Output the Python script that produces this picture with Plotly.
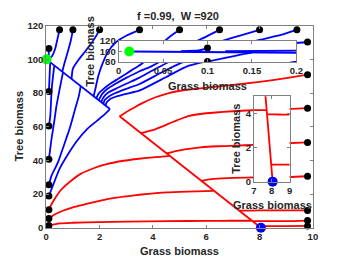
import plotly.graph_objects as go

W, H = 350, 263

# ---------------- text ----------------
title_text = "f =0.99,&nbsp; W =920"
x_label = "Grass biomass"
y_label = "Tree biomass"

# ---------------- ticks ----------------
main_xticks = [0, 2, 4, 6, 8, 10]
main_yticks = [0, 20, 40, 60, 80, 100, 120]
ins1_xticks = [0, 0.05, 0.1, 0.15, 0.2]
ins1_xticklabels = ["0", "0.05", "0.1", "0.15", "0.2"]
ins1_yticks = [80, 100, 120]
ins2_xticks = [7, 8, 9]
ins2_yticks = [0, 2, 4]

# ---------------- equilibria ----------------
green_eq_G = [0.012]
green_eq_T = [100]
blue_eq_G = [8.05]
blue_eq_T = [0]

# ---------------- blue trajectories (to tree state) ----------------
bL106_G = [0.1, 0.09, 0.07]
bL106_T = [106.5, 102, 100.8]
bL81_G = [0.1, 0.12, 0.14, 0.15]
bL81_T = [80.9, 88, 95, 98.1]
bL60_G = [0.1, 0.15, 0.19, 0.22, 0.27, 0.3]
bL60_T = [60.4, 66, 78, 85, 92, 96.3]
bL41_G = [0.1, 0.2, 0.3, 0.38, 0.5, 0.6, 0.63]
bL41_T = [40.7, 53, 63, 72, 82, 90, 92.2]
bL25_G = [0.1, 0.2, 0.44, 0.6, 0.75, 0.9, 1.11, 1.22, 1.29]
bL25_T = [25.5, 31, 38.8, 46, 53, 60, 72, 78, 84]
bL19_G = [0.1, 0.26, 0.5, 0.81, 1.15, 1.54, 1.9, 2.2, 2.39]
bL19_T = [18.9, 25.5, 35, 43.5, 51.5, 58.7, 63.5, 67.5, 70.5]
bT05_G = [0.5, 0.42, 0.33, 0.22, 0.12]
bT05_T = [117.5, 112, 106, 102, 100.5]
bT1_G = [1.0, 0.92, 0.8, 0.68, 0.6]
bT1_T = [117.5, 111, 104, 97.5, 92.6]
bT2_G = [2.0, 1.8, 1.5, 1.2, 1.0, 0.95]
bT2_T = [117.5, 112, 105.5, 99.5, 94.5, 88.3]
bT35_G = [3.5, 3.0, 2.6, 2.3, 2.1, 1.95, 1.85, 1.78]
bT35_T = [117.5, 114, 110, 104, 97, 90, 83, 78.2]
bT5_G = [5.0, 4.6, 4.2, 3.9, 3.6, 3.3, 3.0, 2.7, 2.4, 2.15, 1.98, 1.88]
bT5_T = [117.5, 113, 107.5, 102, 97.5, 94.5, 91.5, 88.5, 85.5, 82.5, 80, 77]
bT65_G = [6.5, 6.0, 5.4, 4.8, 4.3, 3.9, 3.48, 3.0, 2.6, 2.3, 2.1, 1.97]
bT65_T = [117.5, 113.5, 109, 104, 99, 95.5, 92.8, 89, 85.5, 82.5, 79.5, 75.8]
bT8_G = [8.0, 7.3, 6.6, 5.8, 5.1, 4.6, 4.0, 3.48, 3.0, 2.6, 2.3, 2.15, 2.06]
bT8_T = [117.5, 114.2, 110.9, 106.5, 102, 98.4, 93.5, 89, 85.5, 82.5, 80, 77.5, 74.7]
bT95_G = [9.4, 8.8, 8.0, 7.2, 6.4, 5.6, 5.0, 4.3, 3.48, 3.0, 2.6, 2.35, 2.2, 2.14]
bT95_T = [117.5, 114.5, 111.5, 108, 104, 100.5, 97.5, 92, 85.2, 82.5, 80, 78, 76, 73.6]
bR110_G = [9.8, 9.3, 8.6, 7.8, 7.0, 6.2, 5.3, 4.5, 3.48, 3.0, 2.6, 2.4, 2.27, 2.22]
bR110_T = [110.3, 109.6, 108, 105.5, 102.5, 99.5, 96, 89.5, 81.4, 79.5, 77.8, 76.5, 74.5, 72.6]
blue_manifold_G = [2.39, 0.012]
blue_manifold_T = [70.5, 100]

# ---------------- red trajectories (to grass state) ----------------
rR90_G = [9.8, 9.0, 8.0, 7.0, 6.0, 5.2, 4.6, 4.1, 3.6, 3.2, 2.95, 2.75]
rR90_T = [90.9, 88.8, 86.6, 84.8, 83.2, 81.8, 80.0, 77.5, 74.0, 70.5, 68.2, 66.2]
rR70_G = [9.8, 9.0, 8.0, 7.0, 6.0, 5.3, 4.9, 4.55, 4.1, 3.8, 3.54]
rR70_T = [71, 70.5, 70, 69.2, 68, 66.2, 63.8, 61.5, 58.6, 57.2, 56.1]
rR50_G = [9.8, 9.0, 7.8, 7.1, 6.4, 5.78, 5.2, 4.9, 4.6, 4.5]
rR50_T = [50.7, 50.2, 49.2, 48.8, 48.4, 47.7, 46.5, 45.6, 44.5, 44.2]
rR30_G = [9.8, 9.1, 8.0, 7.0, 6.3, 6.0, 5.82]
rR30_T = [30.6, 30.1, 30.0, 29.6, 29.0, 28.5, 27.8]
rR10_G = [9.8, 9.0, 8.0, 7.3, 7.24]
rR10_T = [10.3, 10.3, 10.3, 10.2, 10.2]
rR4_G = [9.8, 9.0, 8.2, 7.76]
rR4_T = [4.3, 3.95, 3.94, 3.94]
rR1_G = [9.8, 9.0, 8.1, 7.97]
rR1_T = [1.1, 1.0, 1.0, 1.0]
rL11_G = [0.1, 0.2, 0.35, 0.56, 0.9, 1.29, 1.8, 2.27, 2.9, 3.48, 4.1, 4.6]
rL11_T = [10.7, 14, 18, 22.6, 27.5, 32, 35.5, 37.8, 39.8, 41, 42, 42.6]
rL6_G = [0.1, 0.3, 0.6, 1.0, 1.41, 2.0, 2.63, 3.3, 3.84, 4.5, 5.3, 6.27]
rL6_T = [5.6, 7.8, 10, 12.2, 13.8, 16, 17.9, 19.3, 20.2, 21, 21.5, 21.9]
rL1_G = [0.1, 0.5, 1.0, 2.0, 3.0, 4.6, 6.0, 7.0, 7.69]
rL1_T = [1.4, 2.6, 3.0, 3.4, 3.7, 4.0, 4.1, 4.19, 4.19]
red_manifold_G = [2.75, 8.05]
red_manifold_T = [66.2, 0]

blue_curves = [(bL106_G, bL106_T), (bL81_G, bL81_T), (bL60_G, bL60_T), (bL41_G, bL41_T),
               (bL25_G, bL25_T), (bL19_G, bL19_T), (bT05_G, bT05_T), (bT1_G, bT1_T),
               (bT2_G, bT2_T), (bT35_G, bT35_T), (bT5_G, bT5_T), (bT65_G, bT65_T),
               (bT8_G, bT8_T), (bT95_G, bT95_T), (bR110_G, bR110_T)]
red_curves = [(rR90_G, rR90_T), (rR70_G, rR70_T), (rR50_G, rR50_T), (rR30_G, rR30_T),
              (rR10_G, rR10_T), (rR4_G, rR4_T), (rR1_G, rR1_T), (rL11_G, rL11_T),
              (rL6_G, rL6_T), (rL1_G, rL1_T)]

BLUE, RED, GREEN = "#0000FF", "#FF0000", "#00FF00"
LW = 1.8
FONT = "Liberation Sans"
AXC = "#808080"
TXC = "#262626"

fig = go.Figure()

def add_set(xa, ya):
    for g, t in blue_curves:
        fig.add_trace(go.Scatter(x=g, y=t, mode="lines", line=dict(color=BLUE, width=LW, shape="spline", smoothing=0.6),
                                 xaxis=xa, yaxis=ya, hoverinfo="skip"))
    fig.add_trace(go.Scatter(x=blue_manifold_G, y=blue_manifold_T, mode="lines", line=dict(color=BLUE, width=LW),
                             xaxis=xa, yaxis=ya, hoverinfo="skip"))
    for g, t in red_curves:
        fig.add_trace(go.Scatter(x=g, y=t, mode="lines", line=dict(color=RED, width=LW, shape="spline", smoothing=0.6),
                                 xaxis=xa, yaxis=ya, hoverinfo="skip"))
    fig.add_trace(go.Scatter(x=red_manifold_G, y=red_manifold_T, mode="lines", line=dict(color=RED, width=LW),
                             xaxis=xa, yaxis=ya, hoverinfo="skip"))
    starts_G = [c[0][0] for c in blue_curves + red_curves]
    starts_T = [c[1][0] for c in blue_curves + red_curves]
    fig.add_trace(go.Scatter(x=starts_G, y=starts_T, mode="markers", marker=dict(color="black", size=7),
                             xaxis=xa, yaxis=ya, cliponaxis=(xa != "x"), hoverinfo="skip"))
    fig.add_trace(go.Scatter(x=green_eq_G, y=green_eq_T, mode="markers", marker=dict(color=GREEN, size=10),
                             xaxis=xa, yaxis=ya, cliponaxis=False, hoverinfo="skip"))
    fig.add_trace(go.Scatter(x=blue_eq_G, y=blue_eq_T, mode="markers", marker=dict(color=BLUE, size=10),
                             xaxis=xa, yaxis=ya, cliponaxis=False, hoverinfo="skip"))

add_set("x", "y")
add_set("x2", "y2")
add_set("x3", "y3")

def px_x(p):
    return p / W

def px_y(p):
    return 1 - p / H

tickfont = dict(family=FONT, size=9.5, color=TXC, weight="bold")
common = dict(showline=True, linecolor=AXC, linewidth=1, mirror="ticks", ticks="inside", ticklen=3,
              tickcolor=AXC, showgrid=False, zeroline=False, tickfont=tickfont, fixedrange=True)

fig.update_layout(
    width=W, height=H, showlegend=False,
    margin=dict(l=0, r=0, t=0, b=0),
    paper_bgcolor="white", plot_bgcolor="white",
    xaxis=dict(domain=[px_x(44.5), px_x(319)], range=[0, 10], tickvals=main_xticks, anchor="y", **common),
    yaxis=dict(domain=[px_y(231.5), px_y(20.5)], range=[0, 120], tickvals=main_yticks, anchor="x", **common),
    xaxis2=dict(domain=[px_x(119), px_x(302)], range=[0, 0.2], tickvals=ins1_xticks, ticktext=ins1_xticklabels,
                anchor="y2", **common),
    yaxis2=dict(domain=[px_y(58.5), px_y(36.5)], range=[80, 120], tickvals=ins1_yticks, anchor="x2", **common),
    xaxis3=dict(domain=[px_x(258.3), px_x(295)], range=[7, 9], tickvals=ins2_xticks, anchor="y3", **common),
    yaxis3=dict(domain=[px_y(183.3), px_y(94.3)], range=[0, 5], tickvals=ins2_yticks, anchor="x3", **common),
)

labfont = dict(family=FONT, size=11, color=TXC, weight="bold")
ann = [
    (title_text, 180.5, 10, 0),
    (x_label, 181.5, 255.5, 0),
    (y_label, 16, 126, -90),
    (x_label, 210, 83.5, 0),
    (y_label, 89.5, 47.5, -90),
    (x_label, 277, 208, 0),
    (y_label, 240, 138.5, -90),
]
for txt, ax_, ay_, rot in ann:
    fig.add_annotation(text=txt, x=px_x(ax_), y=px_y(ay_), xref="paper", yref="paper", showarrow=False,
                       font=labfont, textangle=rot, xanchor="center", yanchor="middle")

fig.write_html("out.html", post_script="document.body.style.margin='0';", config={"displayModeBar": False})
